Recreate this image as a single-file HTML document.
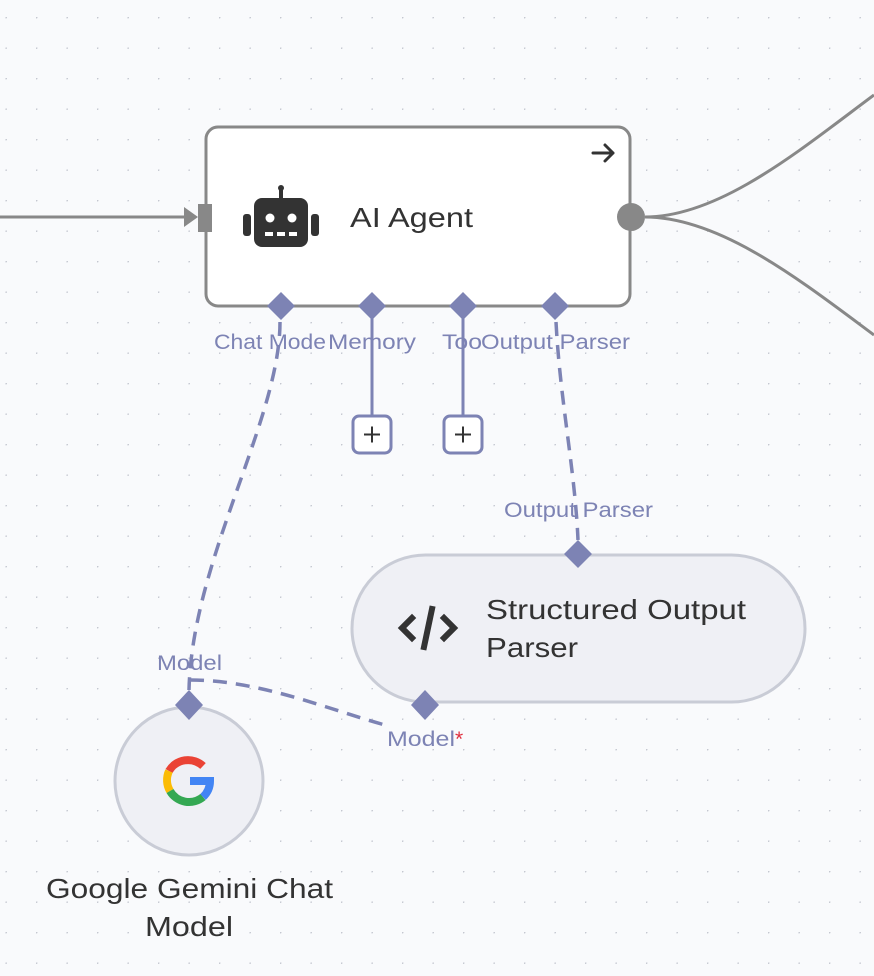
<!DOCTYPE html>
<html><head><meta charset="utf-8"><style>
html,body{margin:0;padding:0;background:#f9fafc;}
svg{display:block;}
text{font-family:"Liberation Sans",sans-serif;}
</style></head><body>
<svg width="874" height="976" viewBox="0 0 874 976" xmlns="http://www.w3.org/2000/svg">
<defs>
<pattern id="g" x="5.5" y="17" width="30.5" height="30.5" patternUnits="userSpaceOnUse">
<circle cx="0.5" cy="0.5" r="1" fill="#c4c7d0"/>
</pattern>
</defs>
<rect width="874" height="976" fill="#f9fafc"/>
<rect width="874" height="976" fill="url(#g)"/>

<line x1="0" y1="217" x2="190" y2="217" stroke="#888" stroke-width="3"/>
<path d="M184 207 L198 217 L184 227 Z" fill="#888"/>
<path d="M645 217 C720 217 800 150 874 95" fill="none" stroke="#888" stroke-width="3"/>
<path d="M645 217 C720 217 800 280 874 335" fill="none" stroke="#888" stroke-width="3"/>

<g fill="none" stroke="#7d83b4" stroke-width="3.5" stroke-dasharray="14 9">
<path d="M280 322 C280 420 192 560 189 690"/>
<path d="M190 680 C260 680 330 710 385 725"/>
<path d="M556 322 C560 400 575 470 578 540"/>
</g>
<g stroke="#7d83b4" stroke-width="3">
<line x1="372" y1="306" x2="372" y2="416"/>
<line x1="463" y1="306" x2="463" y2="416"/>
</g>

<rect x="206" y="127" width="424" height="179" rx="12" fill="#fff" stroke="#888" stroke-width="3"/>
<rect x="198" y="204" width="14" height="28" fill="#888"/>
<circle cx="631" cy="217" r="14" fill="#888"/>
<path d="M593 153 H613 M605 145 L613 153 L605 161" fill="none" stroke="#333" stroke-width="3" stroke-linecap="round" stroke-linejoin="round"/>
<g fill="#333">
<rect x="254" y="198" width="54" height="49" rx="8"/>
<rect x="279" y="187" width="4" height="12"/>
<circle cx="281" cy="188" r="3"/>
<rect x="243" y="214" width="8" height="22" rx="3"/>
<rect x="311" y="214" width="8" height="22" rx="3"/>
</g>
<g fill="#fff">
<circle cx="270" cy="218" r="4.5"/><circle cx="292" cy="218" r="4.5"/>
<rect x="265" y="232" width="8" height="4"/><rect x="277" y="232" width="8" height="4"/><rect x="289" y="232" width="8" height="4"/>
</g>
<text x="350" y="227" font-size="28" fill="#333" textLength="123" lengthAdjust="spacingAndGlyphs">AI Agent</text>

<g fill="#7d83b4">
<path d="M281 292 L295 306 L281 320 L267 306Z"/>
<path d="M372 292 L386 306 L372 320 L358 306Z"/>
<path d="M463 292 L477 306 L463 320 L449 306Z"/>
<path d="M555 292 L569 306 L555 320 L541 306Z"/>
</g>
<g font-size="21" fill="#7d83b4">
<text x="214" y="349" textLength="112" lengthAdjust="spacingAndGlyphs">Chat Mode</text>
<text x="328" y="349" textLength="88" lengthAdjust="spacingAndGlyphs">Memory</text>
<text x="442" y="349" textLength="40" lengthAdjust="spacingAndGlyphs">Too</text>
<text x="481" y="349" textLength="149" lengthAdjust="spacingAndGlyphs">Output Parser</text>
</g>
<g fill="#fff" stroke="#7d83b4" stroke-width="3">
<rect x="353" y="416" width="38" height="37" rx="6"/>
<rect x="444" y="416" width="38" height="37" rx="6"/>
</g>
<g stroke="#333" stroke-width="2">
<path d="M364 434.5 H380 M372 426.5 V442.5"/>
<path d="M455 434.5 H471 M463 426.5 V442.5"/>
</g>

<text x="504" y="517" font-size="21" fill="#7d83b4" textLength="149" lengthAdjust="spacingAndGlyphs">Output Parser</text>
<rect x="352" y="555" width="453" height="147" rx="73.5" fill="#eff0f5" stroke="#c9ccd6" stroke-width="3"/>
<path d="M578 540 L592 554 L578 568 L564 554Z" fill="#7d83b4"/>
<path d="M425 690 L439 705 L425 720 L411 705Z" fill="#7d83b4"/>
<g fill="none" stroke="#333" stroke-width="6" stroke-linecap="square">
<path d="M412 618 L402 628 L412 638"/>
<path d="M444 618 L454 628 L444 638"/>
<path d="M432 609 L424 647"/>
</g>
<text x="486" y="619" font-size="28" fill="#333" textLength="260" lengthAdjust="spacingAndGlyphs">Structured Output</text>
<text x="486" y="657" font-size="28" fill="#333" textLength="92" lengthAdjust="spacingAndGlyphs">Parser</text>
<text x="387" y="746" font-size="21" fill="#7d83b4"><tspan textLength="68" lengthAdjust="spacingAndGlyphs">Model</tspan><tspan fill="#e0303f">*</tspan></text>

<text x="157" y="670" font-size="21" fill="#7d83b4" textLength="65" lengthAdjust="spacingAndGlyphs">Model</text>
<circle cx="189" cy="781" r="74" fill="#eff0f5" stroke="#c9ccd6" stroke-width="3"/>
<path d="M189 690 L203 705 L189 720 L175 705Z" fill="#7d83b4"/>
<g fill="none" stroke-width="8">
<path d="M203 766 A22 22 0 0 0 169 771" stroke="#ea4335"/>
<path d="M169 771 A22 22 0 0 0 170 791" stroke="#fbbc05"/>
<path d="M170 791 A22 22 0 0 0 203 797" stroke="#34a853"/>
<path d="M203 797 A22 22 0 0 0 210 781 H190" stroke="#4285f4"/>
</g>
<text x="46" y="898" font-size="28" fill="#333" textLength="287" lengthAdjust="spacingAndGlyphs">Google Gemini Chat</text>
<text x="145" y="936" font-size="28" fill="#333" textLength="88" lengthAdjust="spacingAndGlyphs">Model</text>
</svg>
</body></html>
